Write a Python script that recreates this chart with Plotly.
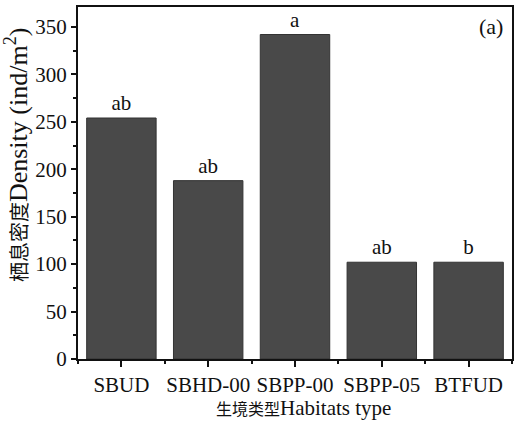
import plotly.graph_objects as go

categories = ["SBUD", "SBHD-00", "SBPP-00", "SBPP-05", "BTFUD"]
density = [254, 188, 342, 102, 102]
letters = ["ab", "ab", "a", "ab", "b"]
y_ticks = [0, 50, 100, 150, 200, 250, 300, 350]

FONT = "Liberation Serif, Times New Roman, Noto Sans CJK SC, serif"
xs = list(range(len(categories)))

fig = go.Figure()
fig.add_trace(go.Bar(
    x=xs, y=density, width=0.8,
    marker=dict(color="#494949", line=dict(color="#333333", width=1)),
    text=letters, textposition="outside",
    textfont=dict(family=FONT, size=21, color="#111111"),
    cliponaxis=False,
))

ytitle = "<span style='font-size:20px'>栖息密度</span>Density (ind/m<sup>2</sup>)"
xtitle = "<span style='font-size:16px'>生境类型</span>Habitats type"

fig.update_layout(
    width=519, height=423,
    margin=dict(l=78, r=5, t=7, b=64),
    paper_bgcolor="white", plot_bgcolor="white",
    font=dict(family=FONT, size=21, color="#111111"),
    showlegend=False,
    bargap=0.2,
    annotations=[
        dict(text="(a)", xref="paper", yref="paper", x=0.985, y=0.945,
             xanchor="right", yanchor="middle", showarrow=False,
             font=dict(family=FONT, size=22)),
        dict(text=ytitle, xref="paper", yref="paper",
             x=-0.14, y=0.58, xanchor="center", yanchor="middle", textangle=-90,
             showarrow=False, font=dict(family=FONT, size=26)),
        dict(text=xtitle, xref="paper", yref="paper",
             x=0.52, y=-0.139, xanchor="center", yanchor="middle",
             showarrow=False, font=dict(family=FONT, size=21)),
    ],
)
fig.update_xaxes(
    range=[-0.5, 4.5], tickvals=xs, ticktext=categories, tickangle=0,
    ticks="outside", ticklen=6, tickwidth=1.5, tickcolor="#111",
    minor=dict(tickvals=[i + 0.5 for i in range(-1, len(categories))], ticks="outside", ticklen=3, tickwidth=1.5, tickcolor="#111"),
    showline=True, linecolor="#111", linewidth=2, mirror=True,
    showgrid=False, zeroline=False,
    tickfont=dict(family=FONT, size=21),
)
fig.update_yaxes(
    range=[0, 371], tickvals=y_ticks,
    ticks="outside", ticklen=5, tickwidth=1.5, tickcolor="#111",
    minor=dict(tickvals=[t + 25 for t in y_ticks], ticks="outside", ticklen=3, tickwidth=1.5, tickcolor="#111"),
    showline=True, linecolor="#111", linewidth=2, mirror=True,
    showgrid=False, zeroline=False,
    tickfont=dict(family=FONT, size=21),
)

fig.write_html("out.html")
